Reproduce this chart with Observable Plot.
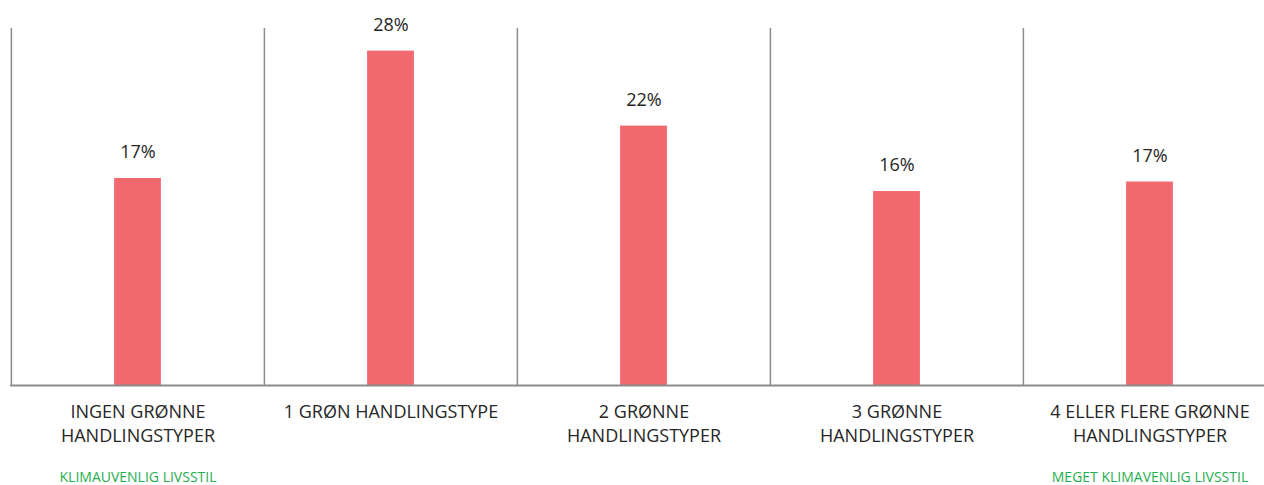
<!DOCTYPE html>
<html>
<head>
<meta charset="utf-8">
<script src="https://cdn.jsdelivr.net/npm/d3@7"></script>
<script src="https://cdn.jsdelivr.net/npm/@observablehq/plot@0.6"></script>
<style>
  html, body { margin: 0; padding: 0; background: #fff; }
  #chart svg { display: block; overflow: visible; }
</style>
</head>
<body>
<div id="chart"></div>
<script>
const categories = [
  "INGEN GRØNNE\nHANDLINGSTYPER",
  "1 GRØN HANDLINGSTYPE",
  "2 GRØNNE\nHANDLINGSTYPER",
  "3 GRØNNE\nHANDLINGSTYPER",
  "4 ELLER FLERE GRØNNE\nHANDLINGSTYPER"
];
const values = [17.4, 28.1, 21.8, 16.3, 17.1];
const valueLabels = ["17%", "28%", "22%", "16%", "17%"];
const endLabels = [
  {category: categories[0], label: "KLIMAUVENLIG LIVSSTIL"},
  {category: categories[4], label: "MEGET KLIMAVENLIG LIVSSTIL"}
];

const data = categories.map((c, i) => ({category: c, value: values[i], label: valueLabels[i]}));

const W = 1264, H = 485;
const x0 = 10, x1 = 1276;
const band = (x1 - x0) / categories.length;
const barW = 47;
const inset = (band - barW) / 2;
const font = "'Open Sans', sans-serif";

const chart = Plot.plot({
  width: W,
  height: H,
  marginTop: 28,
  marginBottom: 100,
  marginLeft: 10,
  marginRight: 0,
  style: {fontFamily: font, background: "#fff"},
  x: {domain: categories, range: [x0, x1], padding: 0, axis: null},
  y: {domain: [0, 30], axis: null},
  marks: [
    Plot.ruleX(data, {x: "category", y1: 0, y2: 30, dx: -band / 2, stroke: "#8c8c8c", strokeWidth: 1.5}),
    Plot.barY(data, {x: "category", y: "value", fill: "#f1686f", insetLeft: inset, insetRight: inset}),
    Plot.ruleY([0], {stroke: "#8c8c8c", strokeWidth: 2}),
    Plot.text(data, {x: "category", y: "value", text: "label", dy: -26, fontSize: 18, fontFamily: font, fill: "#262626"}),
    Plot.text(data, {x: "category", text: "category", frameAnchor: "bottom", lineAnchor: "top", dy: 15, lineHeight: 1.36, fontSize: 18, fontFamily: font, fill: "#262626"}),
    Plot.text(endLabels, {x: "category", text: "label", frameAnchor: "bottom", dy: 96, fontSize: 14, fontFamily: font, fill: "#1fae4f"})
  ]
});
document.getElementById("chart").appendChild(chart);
</script>
</body>
</html>
